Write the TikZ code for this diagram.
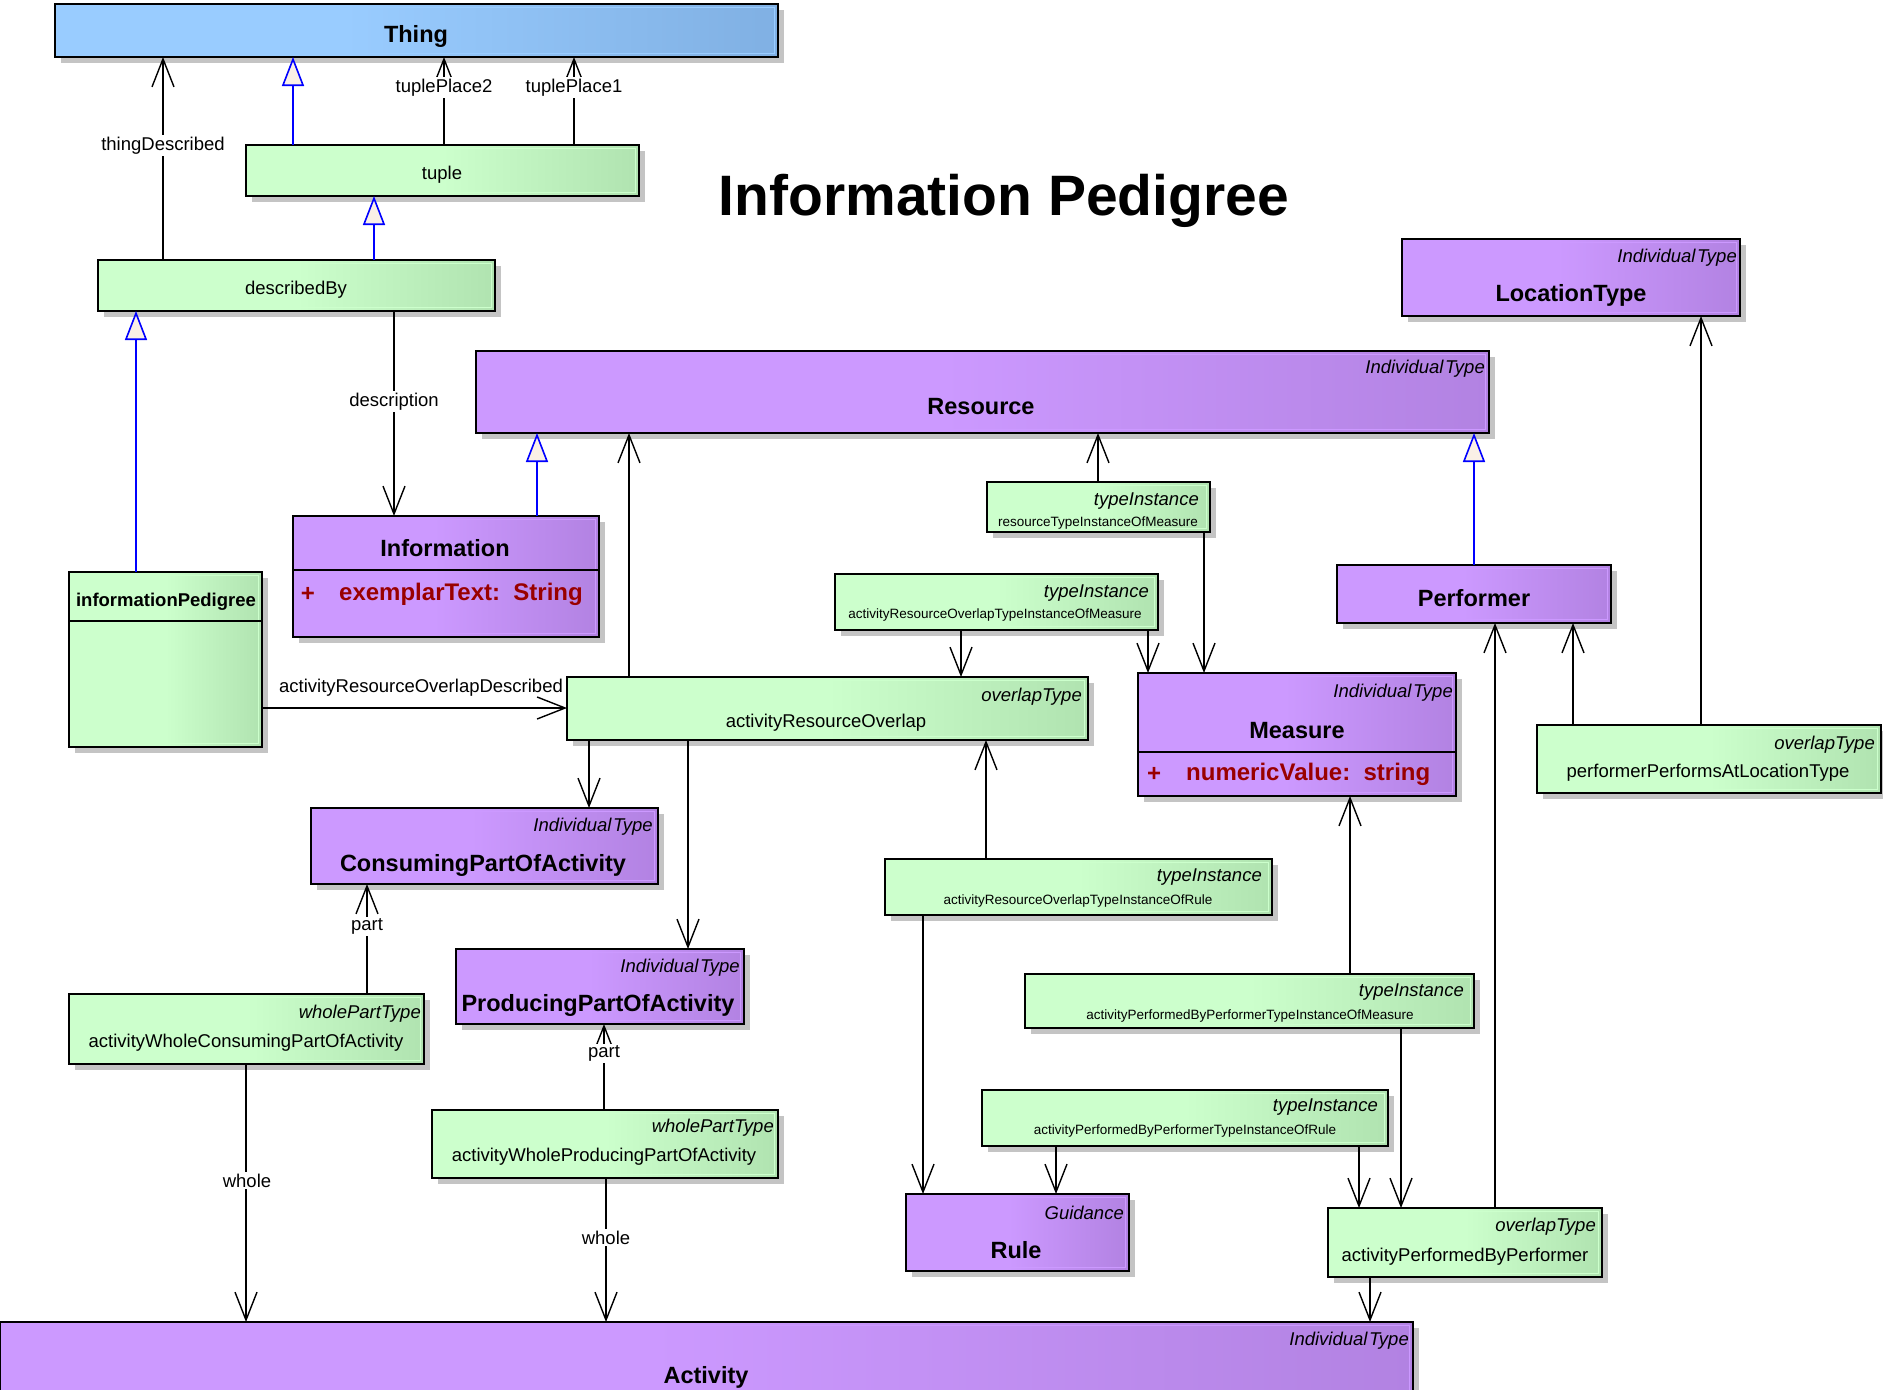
\documentclass[tikz,border=0pt]{standalone}
\usepackage{fontspec}
\setmainfont{Liberation Sans}
\usetikzlibrary{arrows.meta,shadows,calc}

\definecolor{gL}{HTML}{CCFFCC}
\definecolor{gR}{HTML}{B0E3B0}
\definecolor{pL}{HTML}{CC99FF}
\definecolor{pR}{HTML}{B282E2}
\definecolor{bL}{HTML}{99CCFF}
\definecolor{bR}{HTML}{80B0E3}
\definecolor{attrred}{HTML}{990000}
\definecolor{tricream}{HTML}{FAF0E6}
\definecolor{shadowgray}{HTML}{C4C4C4}

% flat on the left half, fading towards the right edge
\pgfdeclarehorizontalshading{greenfade}{100bp}{color(0bp)=(gL); color(25bp)=(gL); color(50bp)=(gL); color(75bp)=(gR); color(100bp)=(gR)}
\pgfdeclarehorizontalshading{purplefade}{100bp}{color(0bp)=(pL); color(25bp)=(pL); color(48bp)=(pL); color(75bp)=(pR); color(100bp)=(pR)}
\pgfdeclarehorizontalshading{bluefade}{100bp}{color(0bp)=(bL); color(25bp)=(bL); color(45bp)=(bL); color(75bp)=(bR); color(100bp)=(bR)}

\tikzset{
  umlbox/.style={draw=black, line width=1.8pt, inner sep=0pt, outer sep=0pt,
    general shadow={fill=shadowgray, shadow xshift=6pt, shadow yshift=-6pt}},
  assoc/.style={draw=black, line width=1.4pt, -{Straight Barb[length=28pt,width=22pt]}},
  gen/.style={draw=blue, line width=1.6pt, -{Triangle[length=29pt,width=22pt,fill=tricream]}},
  txt/.style={inner sep=0pt, yshift=-2.5pt},
  cname/.style={txt, font=\fontsize{23.5}{26}\selectfont\bfseries},
  pname/.style={txt, font=\fontsize{18.5}{21}\selectfont\bfseries},
  rname/.style={txt, font=\fontsize{18.5}{21}\selectfont},
  sname/.style={txt, font=\fontsize{13.5}{15}\selectfont},
  stereo/.style={txt, font=\fontsize{18.5}{21}\selectfont\itshape, anchor=east},
  lbl/.style={font=\fontsize{18.5}{21}\selectfont, fill=white, inner sep=1.5pt, yshift=-2.5pt},
  attrtext/.style={txt, font=\fontsize{24}{26}\selectfont\bfseries, text=attrred},
  divider/.style={draw=black, line width=1.8pt},
  title/.style={font=\fontsize{57}{62}\selectfont\bfseries, inner sep=0pt}
}

\newcommand\indtype{Individual\kern1.5pt Type}

% name, x1, y1, x2, y2, shading, inner highlight colour
\newcommand\umlrect[7]{%
  \node[umlbox, shading=#6, minimum width={(#4-#2)*1pt}, minimum height={(#5-#3)*1pt},
        anchor=north west] (#1) at (#2,#3) {};
  \draw[#7, line width=1.3pt] ($(#1.north west)+(3.5,3.5)$) rectangle ($(#1.south east)+(-3.5,-3.5)$);
}

\begin{document}
\begin{tikzpicture}[x=1pt,y=-1pt]
\useasboundingbox (0,0) rectangle (1883,1390);
\fill[white] (0,0) rectangle (1883,1390);

% ---------- classes ----------
\umlrect{Thing}{55}{4}{778}{57}{bluefade}{bL}
\umlrect{tuple}{246}{145}{639}{196}{greenfade}{gL}
\umlrect{describedBy}{98}{260}{495}{311}{greenfade}{gL}
\umlrect{LocationType}{1402}{239}{1740}{316}{purplefade}{pL}
\umlrect{Resource}{476}{351}{1489}{433}{purplefade}{pL}
\umlrect{Information}{293}{516}{599}{637}{purplefade}{pL}
\umlrect{informationPedigree}{69}{572}{262}{747}{greenfade}{gL}
\umlrect{resTIMeasure}{987}{482}{1210}{532}{greenfade}{gL}
\umlrect{aroTIMeasure}{835}{574}{1158}{630}{greenfade}{gL}
\umlrect{Performer}{1337}{565}{1611}{623}{purplefade}{pL}
\umlrect{activityResourceOverlap}{567}{677}{1088}{740}{greenfade}{gL}
\umlrect{Measure}{1138}{673}{1456}{796}{purplefade}{pL}
\umlrect{performerAtLocation}{1537}{725}{1881}{793}{greenfade}{gL}
\umlrect{ConsumingPart}{311}{808}{658}{884}{purplefade}{pL}
\umlrect{ProducingPart}{456}{949}{744}{1024}{purplefade}{pL}
\umlrect{wholeConsuming}{69}{994}{424}{1064}{greenfade}{gL}
\umlrect{wholeProducing}{432}{1110}{778}{1178}{greenfade}{gL}
\umlrect{aroTIRule}{885}{859}{1272}{915}{greenfade}{gL}
\umlrect{apbTIMeasure}{1025}{974}{1474}{1028}{greenfade}{gL}
\umlrect{apbTIRule}{982}{1090}{1388}{1146}{greenfade}{gL}
\umlrect{Rule}{906}{1194}{1129}{1271}{purplefade}{pL}
\umlrect{performedBy}{1328}{1208}{1602}{1277}{greenfade}{gL}
\umlrect{Activity}{0}{1322}{1413}{1402}{purplefade}{pL}

% compartment dividers
\draw[divider] (Information.west |- 0,570) -- (Information.east |- 0,570);
\draw[divider] (informationPedigree.west |- 0,621) -- (informationPedigree.east |- 0,621);
\draw[divider] (Measure.west |- 0,752) -- (Measure.east |- 0,752);

% ---------- texts ----------
\node[title] (pageTitle) at (1004,201) {Information Pedigree};

\node[cname] (Thing-n) at (416,34) {Thing};
\node[rname] (tuple-n) at (442,172) {tuple};
\node[rname] (describedBy-n) at (296,287) {describedBy};

\node[stereo] (LocationType-s) at (1737,255) {\indtype};
\node[cname] (LocationType-n) at (1571,293) {LocationType};

\node[stereo] (Resource-s) at (1485,366) {\indtype};
\node[cname] (Resource-n) at (981,404) {Resource};

\node[cname] (Information-n) at (445,546) {Information};
\node[attrtext] (Information-v) at (308,592) {+};
\node[attrtext, anchor=west] (Information-a) at (339,592) {exemplarText:\ \ String};

\node[pname] (informationPedigree-n) at (166,599) {informationPedigree};

\node[stereo] (resTIMeasure-s) at (1199,499) {typeInstance};
\node[sname] (resTIMeasure-n) at (1098,521) {resourceTypeInstanceOfMeasure};

\node[stereo] (aroTIMeasure-s) at (1149,591) {typeInstance};
\node[sname] (aroTIMeasure-n) at (995,613) {activityResourceOverlapTypeInstanceOfMeasure};

\node[cname] (Performer-n) at (1474,596) {Performer};

\node[stereo] (activityResourceOverlap-s) at (1082,694) {overlapType};
\node[rname] (activityResourceOverlap-n) at (826,720) {activityResourceOverlap};

\node[stereo] (Measure-s) at (1453,690) {\indtype};
\node[cname] (Measure-n) at (1297,728) {Measure};
\node[attrtext] (Measure-v) at (1154,772) {+};
\node[attrtext, anchor=west] (Measure-a) at (1186,772) {numericValue:\ \ string};

\node[stereo] (performerAtLocation-s) at (1875,742) {overlapType};
\node[rname] (performerAtLocation-n) at (1708,770) {performerPerformsAtLocationType};

\node[stereo] (ConsumingPart-s) at (653,824) {\indtype};
\node[cname] (ConsumingPart-n) at (483,863) {ConsumingPartOfActivity};

\node[stereo] (ProducingPart-s) at (740,965) {\indtype};
\node[cname] (ProducingPart-n) at (598,1003) {ProducingPartOfActivity};

\node[stereo] (wholeConsuming-s) at (421,1011) {wholePartType};
\node[rname] (wholeConsuming-n) at (246,1040) {activityWholeConsumingPartOfActivity};

\node[stereo] (wholeProducing-s) at (774,1125) {wholePartType};
\node[rname] (wholeProducing-n) at (604,1154) {activityWholeProducingPartOfActivity};

\node[stereo] (aroTIRule-s) at (1262,875) {typeInstance};
\node[sname] (aroTIRule-n) at (1078,898) {activityResourceOverlapTypeInstanceOfRule};

\node[stereo] (apbTIMeasure-s) at (1464,990) {typeInstance};
\node[sname] (apbTIMeasure-n) at (1250,1013) {activityPerformedByPerformerTypeInstanceOfMeasure};

\node[stereo] (apbTIRule-s) at (1378,1105) {typeInstance};
\node[sname] (apbTIRule-n) at (1185,1128) {activityPerformedByPerformerTypeInstanceOfRule};

\node[stereo] (Rule-s) at (1124,1210) {Guidance};
\node[cname] (Rule-n) at (1016,1248) {Rule};

\node[stereo] (performedBy-s) at (1596,1224) {overlapType};
\node[rname] (performedBy-n) at (1465,1254) {activityPerformedByPerformer};

\node[stereo] (Activity-s) at (1409,1338) {\indtype};
\node[cname] (Activity-n) at (706,1375) {Activity};

% ---------- generalisations ----------
\draw[gen] (tuple.north -| 293,0) -- (Thing.south -| 293,0);
\draw[gen] (describedBy.north -| 374,0) -- (tuple.south -| 374,0);
\draw[gen] (informationPedigree.north -| 136,0) -- (describedBy.south -| 136,0);
\draw[gen] (Information.north -| 537,0) -- (Resource.south -| 537,0);
\draw[gen] (Performer.north -| 1474,0) -- (Resource.south -| 1474,0);

% ---------- associations ----------
\draw[assoc] (describedBy.north -| 163,0) -- (Thing.south -| 163,0);
\draw[assoc] (tuple.north -| 444,0) -- (Thing.south -| 444,0);
\draw[assoc] (tuple.north -| 574,0) -- (Thing.south -| 574,0);
\draw[assoc] (describedBy.south -| 394,0) -- (Information.north -| 394,0);
\draw[assoc] (informationPedigree.east |- 0,708) -- (activityResourceOverlap.west |- 0,708);
\draw[assoc] (activityResourceOverlap.north -| 629,0) -- (Resource.south -| 629,0);
\draw[assoc] (resTIMeasure.north -| 1098,0) -- (Resource.south -| 1098,0);
\draw[assoc] (resTIMeasure.south -| 1204,0) -- (Measure.north -| 1204,0);
\draw[assoc] (aroTIMeasure.south -| 961,0) -- (activityResourceOverlap.north -| 961,0);
\draw[assoc] (aroTIMeasure.south -| 1148,0) -- (Measure.north -| 1148,0);
\draw[assoc] (performerAtLocation.north -| 1701,0) -- (LocationType.south -| 1701,0);
\draw[assoc] (performerAtLocation.north -| 1573,0) -- (Performer.south -| 1573,0);
\draw[assoc] (performedBy.north -| 1495,0) -- (Performer.south -| 1495,0);
\draw[assoc] (activityResourceOverlap.south -| 589,0) -- (ConsumingPart.north -| 589,0);
\draw[assoc] (activityResourceOverlap.south -| 688,0) -- (ProducingPart.north -| 688,0);
\draw[assoc] (aroTIRule.north -| 986,0) -- (activityResourceOverlap.south -| 986,0);
\draw[assoc] (aroTIRule.south -| 923,0) -- (Rule.north -| 923,0);
\draw[assoc] (apbTIMeasure.north -| 1350,0) -- (Measure.south -| 1350,0);
\draw[assoc] (apbTIMeasure.south -| 1401,0) -- (performedBy.north -| 1401,0);
\draw[assoc] (apbTIRule.south -| 1056,0) -- (Rule.north -| 1056,0);
\draw[assoc] (apbTIRule.south -| 1359,0) -- (performedBy.north -| 1359,0);
\draw[assoc] (performedBy.south -| 1370,0) -- (Activity.north -| 1370,0);
\draw[assoc] (wholeConsuming.north -| 367,0) -- (ConsumingPart.south -| 367,0);
\draw[assoc] (wholeConsuming.south -| 246,0) -- (Activity.north -| 246,0);
\draw[assoc] (wholeProducing.north -| 604,0) -- (ProducingPart.south -| 604,0);
\draw[assoc] (wholeProducing.south -| 606,0) -- (Activity.north -| 606,0);

% ---------- role labels ----------
\node[lbl] (l-thingDescribed) at (163,143) {thingDescribed};
\node[lbl] (l-tuplePlace2) at (444,85) {tuplePlace2};
\node[lbl] (l-tuplePlace1) at (574,85) {tuplePlace1};
\node[lbl] (l-description) at (394,399) {description};
\node[lbl, fill=none] (l-aroDescribed) at (421,685) {activityResourceOverlapDescribed};
\node[lbl] (l-part1) at (367,924) {part};
\node[lbl] (l-whole1) at (247,1178) {whole};
\node[lbl] (l-part2) at (604,1051) {part};
\node[lbl] (l-whole2) at (606,1235) {whole};
\end{tikzpicture}
\end{document}
